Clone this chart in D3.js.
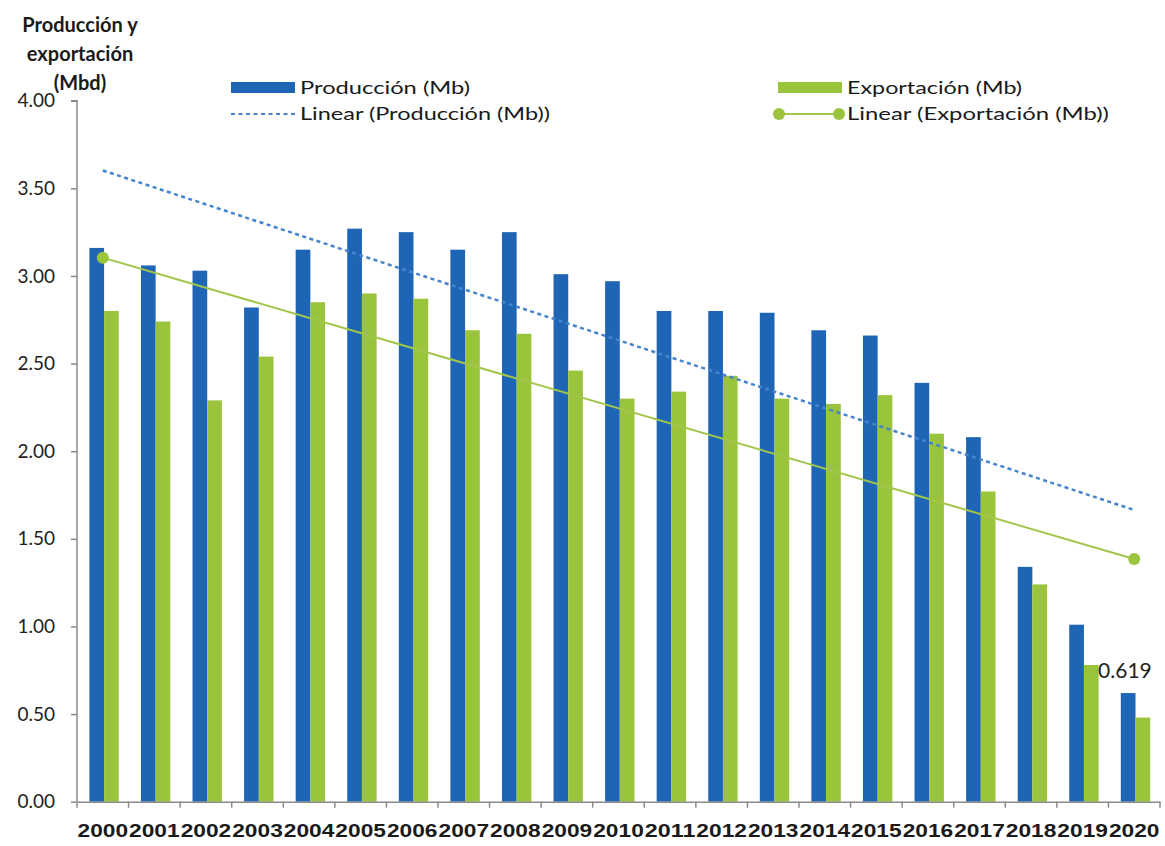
<!DOCTYPE html>
<html><head><meta charset="utf-8">
<script src="https://cdn.jsdelivr.net/npm/d3@7"></script>
<style>
html,body{margin:0;padding:0;background:#fff;}
svg{display:block;font-family:Lato,"Open Sans",sans-serif;}
</style></head>
<body><svg id="chart" width="1165" height="846"></svg>
<script>
const years = ["2000","2001","2002","2003","2004","2005","2006","2007","2008","2009","2010","2011","2012","2013","2014","2015","2016","2017","2018","2019","2020"];
const produccion = [3.16,3.06,3.03,2.82,3.15,3.27,3.25,3.15,3.25,3.01,2.97,2.80,2.80,2.79,2.69,2.66,2.39,2.08,1.34,1.01,0.62];
const exportacion = [2.80,2.74,2.29,2.54,2.85,2.90,2.87,2.69,2.67,2.46,2.30,2.34,2.43,2.30,2.27,2.32,2.10,1.77,1.24,0.78,0.48];
const yTicks = [0,0.5,1,1.5,2,2.5,3,3.5,4];
const seriesNames = ["Producción (Mb)","Exportación (Mb)"];
const trendNames = ["Linear (Producción (Mb))","Linear (Exportación (Mb))"];
const titleLines = ["Producción y","exportación","(Mbd)"];
const annotation = {year:"2019", text:"0.619"};

(function(){
const blue = "#1e65b6", green = "#9bc43d", blueTrend = "#4583cc", greenTrend = "#a2c64a";
const svg = d3.select("#chart");
const pLeft = 77, pRight = 1160, pTop = 100.7, pBottom = 801.7;

const x = d3.scaleBand().domain(years).range([pLeft, pRight]).paddingInner(0).paddingOuter(0);
const bw = x.bandwidth();
const x1 = d3.scaleBand().domain(["p","e"]).range([bw*0.24, bw*0.24 + bw*0.57]);
const y = d3.scaleLinear().domain([0,4]).range([pBottom, pTop]);

// bars
const g = svg.append("g");
years.forEach((yr,i)=>{
  g.append("rect").attr("x", x(yr)+x1("p")).attr("width", x1.bandwidth())
    .attr("y", y(produccion[i])).attr("height", y(0)-y(produccion[i])).attr("fill", blue);
  g.append("rect").attr("x", x(yr)+x1("e")).attr("width", x1.bandwidth())
    .attr("y", y(exportacion[i])).attr("height", y(0)-y(exportacion[i])).attr("fill", green);
});

// linear trends (least squares, as the spreadsheet computes them)
function fit(vals){
  const n = vals.length, xs = d3.range(n);
  const mx = d3.mean(xs), my = d3.mean(vals);
  const b = d3.sum(xs, (xi,i)=>(xi-mx)*(vals[i]-my)) / d3.sum(xs, xi=>(xi-mx)*(xi-mx));
  const a = my - b*mx;
  return [a, a + b*(n-1)];
}
const cx = yr => x(yr) + bw/2;
const tp = fit(produccion), te = fit(exportacion);
svg.append("line").attr("x1", cx(years[0])).attr("y1", y(tp[0]))
  .attr("x2", cx(years[years.length-1])).attr("y2", y(tp[1]))
  .attr("stroke", blueTrend).attr("stroke-width", 2.5).attr("stroke-dasharray","4,3.5");
svg.append("line").attr("x1", cx(years[0])).attr("y1", y(te[0]))
  .attr("x2", cx(years[years.length-1])).attr("y2", y(te[1]))
  .attr("stroke", greenTrend).attr("stroke-width", 2);
[[years[0],te[0]],[years[years.length-1],te[1]]].forEach(([yr,v])=>{
  svg.append("circle").attr("cx", cx(yr)).attr("cy", y(v)).attr("r", 6).attr("fill", green);
});

// axes
const axisColor = "#8a8a8a";
const yAxis = svg.append("g").attr("transform", `translate(${pLeft},0)`)
  .call(d3.axisLeft(y).tickValues(yTicks).tickSize(6).tickPadding(16).tickFormat(d3.format(".2f")));
const xAxis = svg.append("g").attr("transform", `translate(0,${pBottom})`)
  .call(d3.axisBottom(x).tickSize(0).tickPadding(22));
[yAxis,xAxis].forEach(a=>{a.select(".domain").attr("stroke", axisColor).attr("stroke-width",1.5);
  a.selectAll(".tick line").attr("stroke", axisColor).attr("stroke-width",1.5);});
yAxis.select(".domain").attr("d", `M-6,${pTop}H0V${pBottom}`);
yAxis.selectAll("text").attr("font-size", 19).attr("fill","#222").attr("font-family","Lato, sans-serif");
xAxis.selectAll("text").attr("font-size", 19).attr("font-weight","bold").attr("fill","#1a1a1a")
  .attr("textLength", bw-1).attr("lengthAdjust","spacingAndGlyphs");
// category boundary ticks on x axis
xAxis.append("g").selectAll("line").data(years.concat(["end"])).join("line")
  .attr("x1", (d,i)=> pLeft + i*bw).attr("x2",(d,i)=> pLeft + i*bw)
  .attr("y1",0).attr("y2",6).attr("stroke", axisColor).attr("stroke-width",1.5);

// title
svg.append("text").attr("x", 80).attr("y", 32).attr("text-anchor","middle")
  .attr("font-size", 20).attr("font-weight","bold").attr("fill","#1a1a1a")
  .selectAll("tspan").data(titleLines).join("tspan")
  .attr("x", 80).attr("dy", (d,i)=> i===0 ? 0 : 29).text(d=>d);

// annotation
svg.append("text").attr("x", x(annotation.year) + bw*0.80).attr("y", 678)
  .attr("font-size", 21).attr("fill","#222").text(annotation.text);

// legend
const leg = svg.append("g").attr("font-size", 18).attr("fill","#1a1a1a");
leg.append("rect").attr("x",231).attr("y",82).attr("width",64).attr("height",11).attr("fill",blue);
leg.append("text").attr("x",300).attr("y",94).attr("textLength",170).attr("lengthAdjust","spacingAndGlyphs").text(seriesNames[0]);
leg.append("line").attr("x1",231).attr("x2",295).attr("y1",114).attr("y2",114)
  .attr("stroke",blueTrend).attr("stroke-width",2).attr("stroke-dasharray","4,3.5");
leg.append("text").attr("x",300).attr("y",120).attr("textLength",250).attr("lengthAdjust","spacingAndGlyphs").text(trendNames[0]);
leg.append("rect").attr("x",778).attr("y",82).attr("width",64).attr("height",11).attr("fill",green);
leg.append("text").attr("x",847).attr("y",94).attr("textLength",175).attr("lengthAdjust","spacingAndGlyphs").text(seriesNames[1]);
leg.append("line").attr("x1",779).attr("x2",839).attr("y1",114).attr("y2",114).attr("stroke",greenTrend).attr("stroke-width",2);
[779,839].forEach(cxp=>leg.append("circle").attr("cx",cxp).attr("cy",114).attr("r",6).attr("fill",green));
leg.append("text").attr("x",847).attr("y",120).attr("textLength",262).attr("lengthAdjust","spacingAndGlyphs").text(trendNames[1]);
})();
</script></body></html>
